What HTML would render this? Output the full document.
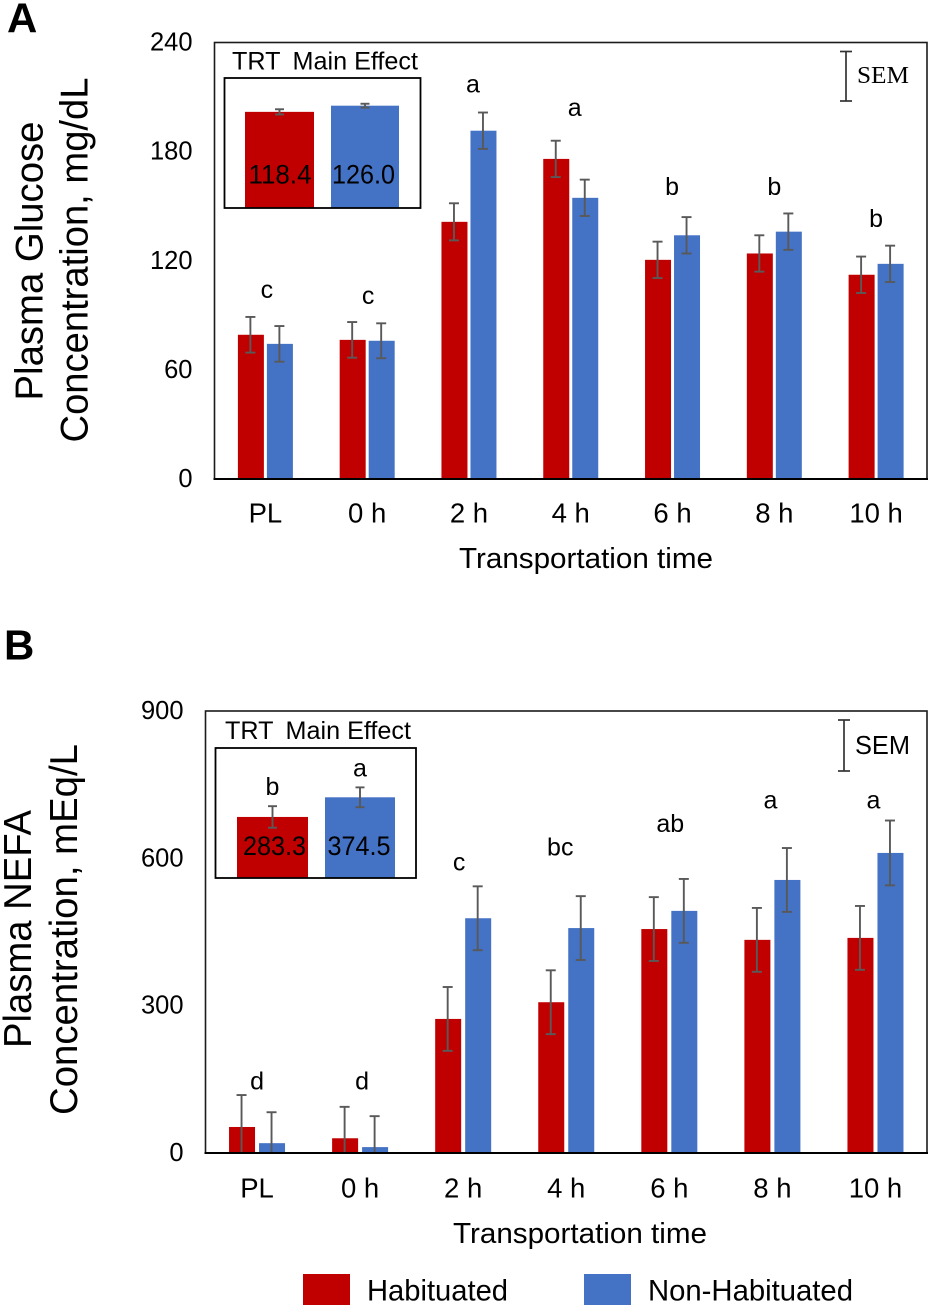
<!DOCTYPE html>
<html lang="en">
<head>
<meta charset="utf-8">
<title>Plasma glucose and NEFA by transportation time</title>
<style>
html,body{margin:0;padding:0;background:#fff;}
svg{display:block;font-family:"Liberation Sans",Arial,sans-serif;filter:blur(0.35px);}
text{fill:#000;}
</style>
</head>
<body>
<svg id="fig" xmlns="http://www.w3.org/2000/svg" width="931" height="1308" viewBox="0 0 931 1308"></svg>
<script>
const categories = ['PL','0 h','2 h','4 h','6 h','8 h','10 h'];

const glucoseTicks = [0,60,120,180,240];
const glucoseHabituated = [79.3,76.5,141.4,176,120.5,124,112.3];
const glucoseNonHabituated = [74.3,76,191.5,154.6,134,136,118.3];
const glucoseSemHabituated = [9.8,9.8,10.2,10,10,10,10];
const glucoseSemNonHabituated = [9.8,9.6,10,10,10,10,10];
const glucoseLetters = ['c','c','a','a','b','b','b'];
const glucoseLetterLevels = [104,100.5,217,204,160.5,160.5,143];
const glucoseInsetValues = [118.4,126.0];
const glucoseInsetSem = [3.2,2.4];
const glucoseInsetLabels = ['118.4','126.0'];

const nefaTicks = [0,300,600,900];
const nefaHabituated = [53,30,273,307,456,434,438];
const nefaNonHabituated = [20,12,478,458,493,556,611];
const nefaSemHabituated = [65,64,65,65,65,65,65];
const nefaSemNonHabituated = [63,63,65,65,65,65,66];
const nefaLetters = ['d','d','c','bc','ab','a','a'];
const nefaLetterLevels = [146,146,592,622,670,718,718];
const nefaInsetValues = [283.3,374.5];
const nefaInsetSem = [50,46];
const nefaInsetLabels = ['283.3','374.5'];
const nefaInsetLetters = ['b','a'];

const RED = '#C00000', BLUE = '#4472C4', ERR = '#595959';
const svg = document.getElementById('fig');
const NS = 'http://www.w3.org/2000/svg';

function mk(tag, attrs, parent, txt){
  const e = document.createElementNS(NS, tag);
  for (const k in attrs) e.setAttribute(k, attrs[k]);
  if (txt !== undefined) e.textContent = txt;
  (parent || svg).appendChild(e);
  return e;
}
function label(parent, x, y, str, size, len, extra){
  const a = Object.assign({x:x, y:y, 'font-size':size, 'text-anchor':'middle', 'dominant-baseline':'central'}, extra || {});
  if (len) { a.textLength = len; a.lengthAdjust = 'spacingAndGlyphs'; }
  return mk('text', a, parent, str);
}
function errBar(parent, x, yHi, yLo, color, cap, w){
  const g = mk('g', {stroke:color, 'stroke-width':w, fill:'none'}, parent);
  
  
  mk('line', {x1:x, x2:x, y1:yHi, y2:yLo}, g);
  mk('line', {x1:x-cap, x2:x+cap, y1:yHi, y2:yHi}, g);
  mk('line', {x1:x-cap, x2:x+cap, y1:yLo, y2:yLo}, g);
}

function drawPanel(c){
  const root = mk('g', {});
  
  

  const yScale = v => c.y0 - (v / c.yMax) * (c.y0 - c.yTop);
  const step = (c.right - c.left) / categories.length;
  const xScale = i => c.left + (i + 0.5) * step;

  /* series */
  const series = [
    {vals:c.red, sem:c.redSem, color:RED, off:-c.off, key:'habituated'},
    {vals:c.blue, sem:c.blueSem, color:BLUE, off:c.off, key:'non-habituated'}
  ];
  series.forEach(s => {
    s.vals.forEach((v, i) => {
      const cx = xScale(i) + s.off;
      const r = mk('rect', {x:cx - c.barW/2, y:yScale(v), width:c.barW, height:c.y0 - yScale(v), fill:s.color}, root);
      
      
    });
    s.vals.forEach((v, i) => {
      const cx = xScale(i) + s.off - 0.5;
      errBar(root, cx, yScale(v + s.sem[i]), yScale(Math.max(0, v - s.sem[i])), ERR, 5, 1.9);
    });
  });

  /* frame */
  const frame = mk('rect', {x:c.left, y:c.yTop, width:c.right-c.left, height:c.y0-c.yTop, fill:'none', stroke:'#1a1a1a', 'stroke-width':1.6}, root);
  
  
  const base = mk('line', {x1:c.left-1, x2:c.right+1, y1:c.y0, y2:c.y0, stroke:'#000', 'stroke-width':2}, root);
  
  

  /* y ticks */
  c.ticks.forEach(t => {
    const e = mk('text', {x:c.left-22, y:yScale(t), 'font-size':25.5, 'text-anchor':'end', 'dominant-baseline':'central', fill:'#111'}, root, String(t));
    
    
  });
  /* x ticks */
  categories.forEach((t, i) => {
    const e = label(root, xScale(i), c.xLabelY, t, 27.5);
    
    
  });
  /* letters */
  c.letters.forEach((t, i) => {
    const e = label(root, xScale(i) + c.letterDx[i], yScale(c.levels[i]), t, 25);
    
    
  });

  /* x title */
  const xt = label(root, c.xTitleX, c.xTitleY, 'Transportation time', 29, c.xTitleLen);
  
  

  /* y titles */
  const y1 = mk('text', {transform:'translate('+c.y1X+','+c.y1Y+') rotate(-90)', 'font-size':38.5, 'text-anchor':'middle', 'dominant-baseline':'central', textLength:c.y1Len, lengthAdjust:'spacingAndGlyphs'}, root, c.y1Text);
  
  
  const y2 = mk('text', {transform:'translate('+c.y2X+','+c.y2Y+') rotate(-90)', 'font-size':38.5, 'text-anchor':'middle', 'dominant-baseline':'central', textLength:c.y2Len, lengthAdjust:'spacingAndGlyphs'}, root, c.y2Text);
  
  

  /* panel letter */
  const pl = mk('text', {x:c.tagX, y:c.tagY, 'font-size':42, 'font-weight':'bold', 'text-anchor':'start', 'dominant-baseline':'central'}, root, c.tag);
  
  

  /* SEM key */
  errBar(root, c.semX, c.semTop, c.semBot, '#333', 6, 1.7);
  const st = mk('text', {x:c.semTextX, y:c.semTextY, 'font-size':c.semSize, 'font-family':c.semFont, 'text-anchor':'start', 'dominant-baseline':'central', textLength:c.semLen, lengthAdjust:'spacingAndGlyphs', fill:'#222'}, root, 'SEM');
  
  

  /* inset */
  const inset = mk('g', {}, root);
  
  
  const it = label(inset, c.ins.titleX, c.ins.titleY, 'TRT\u2009 Main Effect', 25, c.ins.titleLen);
  
  
  const insY = v => c.ins.bottom - v * c.ins.scale;
  c.insVals.forEach((v, i) => {
    const cx = c.ins.cx[i];
    const r = mk('rect', {x:cx - c.ins.w[i]/2, y:insY(v), width:c.ins.w[i], height:c.ins.bottom - insY(v), fill:i ? BLUE : RED}, inset);
    
    
    errBar(inset, cx, insY(v + c.insSem[i]), insY(v - c.insSem[i]), ERR, 4.5, 1.9);
    const t = label(inset, cx + c.ins.valDx[i], c.ins.valY, c.insLabels[i], 27, 63);
    
    
    if (c.insLetters) {
      const l = label(inset, cx, insY(v + c.insSem[i]) - 19, c.insLetters[i], 25);
      
      
    }
  });
  const box = mk('rect', {x:c.ins.x, y:c.ins.y, width:c.ins.wd, height:c.ins.bottom - c.ins.y, fill:'none', stroke:'#000', 'stroke-width':1.8}, inset);
  
  
}

drawPanel({
  name:'panel-a-glucose', tag:'A', tagX:7, tagY:18,
  left:214.5, right:927, yTop:42.5, y0:479, yMax:240, barW:26, off:14.5, xLabelY:513,
  ticks:glucoseTicks, red:glucoseHabituated, blue:glucoseNonHabituated,
  redSem:glucoseSemHabituated, blueSem:glucoseSemNonHabituated,
  letters:glucoseLetters, levels:glucoseLetterLevels, letterDx:[1.5,1,4,4,-0.5,0,0],
  xTitleX:586, xTitleY:559, xTitleLen:254,
  y1Text:'Plasma Glucose', y1X:30, y1Y:261, y1Len:279,
  y2Text:'Concentration, mg/dL', y2X:75, y2Y:260, y2Len:365,
  semX:846, semTop:51.5, semBot:101, semTextX:857, semTextY:76, semSize:24, semFont:'"Liberation Serif",serif', semLen:52,
  insVals:glucoseInsetValues, insSem:glucoseInsetSem, insLabels:glucoseInsetLabels,
  ins:{x:224.5, y:78, wd:196, bottom:208, scale:0.812, cx:[279.5,365], w:[69,68], valDx:[0.5,-1.5], valY:174.5, titleX:325, titleY:61.5, titleLen:186}
});

drawPanel({
  name:'panel-b-nefa', tag:'B', tagX:4, tagY:645,
  left:205.5, right:927, yTop:711, y0:1153, yMax:900, barW:26, off:15, xLabelY:1188,
  ticks:nefaTicks, red:nefaHabituated, blue:nefaNonHabituated,
  redSem:nefaSemHabituated, blueSem:nefaSemNonHabituated,
  letters:nefaLetters, levels:nefaLetterLevels, letterDx:[0,2,-4,-6,1,-2,-2],
  xTitleX:580, xTitleY:1234, xTitleLen:254,
  y1Text:'Plasma NEFA', y1X:18.7, y1Y:929, y1Len:238,
  y2Text:'Concentration, mEq/L', y2X:64.6, y2Y:929.5, y2Len:371,
  semX:844, semTop:720, semBot:771, semTextX:855, semTextY:746, semSize:25.5, semFont:'"Liberation Sans",sans-serif', semLen:55,
  insVals:nefaInsetValues, insSem:nefaInsetSem, insLabels:nefaInsetLabels, insLetters:nefaInsetLetters,
  ins:{x:215.5, y:748, wd:200.5, bottom:878, scale:0.2155, cx:[272.5,360], w:[71,70], valDx:[2,-1], valY:846, titleX:318, titleY:731, titleLen:186}
});

/* legend */
const legend = mk('g', {});


const legend1 = mk('rect', {x:303, y:1274, width:47, height:31, fill:RED}, legend);


const legendT1 = mk('text', {x:367, y:1291, 'font-size':29.5, 'dominant-baseline':'central', textLength:141, lengthAdjust:'spacingAndGlyphs'}, legend, 'Habituated');


const legend2 = mk('rect', {x:584, y:1274, width:47, height:31, fill:BLUE}, legend);


const legendT2 = mk('text', {x:648, y:1291, 'font-size':29.5, 'dominant-baseline':'central', textLength:205, lengthAdjust:'spacingAndGlyphs'}, legend, 'Non-Habituated');


</script>
</body>
</html>
